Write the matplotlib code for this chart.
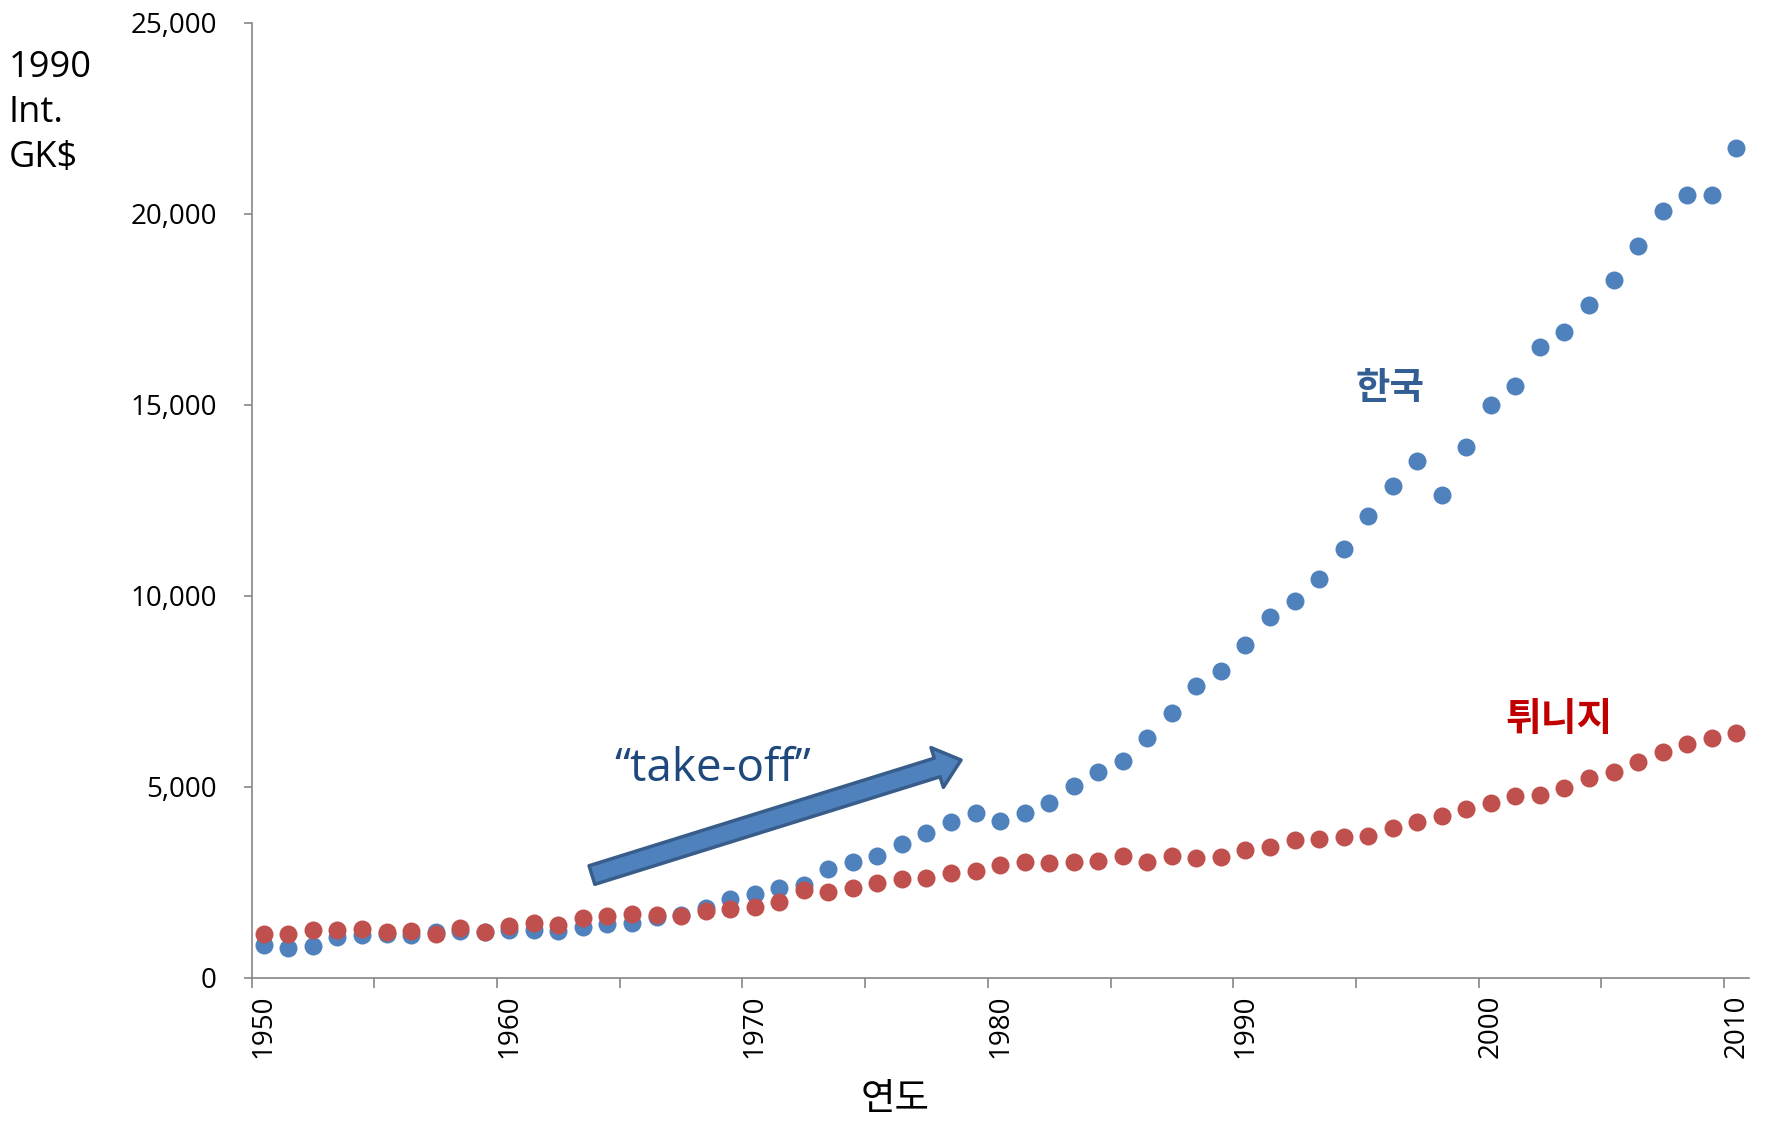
import matplotlib
matplotlib.use('Agg')
import matplotlib.pyplot as plt
from matplotlib.ticker import FuncFormatter, FixedLocator

# ---- data (1990 Int. GK$) ----
years = list(range(1950, 2011))
korea = [851, 781, 833, 1053, 1113, 1148, 1120, 1180, 1215, 1205,
         1240, 1245, 1230, 1314, 1401, 1419, 1576, 1637, 1812, 2048,
         2186, 2350, 2430, 2833, 3032, 3181, 3487, 3775, 4063, 4316,
         4106, 4316, 4578, 5022, 5373, 5677, 6279, 6934, 7621, 8027,
         8709, 9448, 9867, 10427, 11220, 12092, 12870, 13524, 12634, 13899,
         15000, 15496, 16517, 16894, 17609, 18264, 19147, 20063, 20490, 20490,
         21713]
tunisia = [1139, 1131, 1244, 1244, 1270, 1183, 1227, 1139, 1288, 1200,
           1349, 1436, 1375, 1550, 1610, 1663, 1650, 1610, 1750, 1786,
           1838, 1985, 2291, 2230, 2335, 2466, 2579, 2597, 2728, 2797,
           2946, 3032, 2990, 3032, 3059, 3170, 3032, 3170, 3121, 3145,
           3338, 3409, 3600, 3627, 3688, 3714, 3906, 4080, 4229, 4420,
           4570, 4745, 4779, 4975, 5216, 5390, 5651, 5913, 6114, 6263,
           6410]
xtick_labels = [1950, 1960, 1970, 1980, 1990, 2000, 2010]
yticks = [0, 5000, 10000, 15000, 20000, 25000]

plt.rcParams['font.family'] = ['Open Sans', 'Noto Sans CJK KR', 'DejaVu Sans']

fig = plt.figure(figsize=(17.68, 11.24), dpi=100)
ax = fig.add_axes([0.1423, 0.1303, 0.989 - 0.1423, 0.9798 - 0.1303])

ax.scatter(years, korea, s=168, color='#4F81BD', linewidths=0, zorder=3, clip_on=False)
ax.scatter(years, tunisia, s=168, color='#C0504D', linewidths=0, zorder=4, clip_on=False)

ax.set_xlim(years[0] - 0.5, years[-1] + 0.5)
ax.set_ylim(yticks[0], yticks[-1])

axis_col = '#868686'
for s in ['top', 'right']:
    ax.spines[s].set_visible(False)
for s in ['left', 'bottom']:
    ax.spines[s].set_color(axis_col)
    ax.spines[s].set_linewidth(1.2)

ax.set_yticks(yticks)
ax.yaxis.set_major_formatter(FuncFormatter(lambda v, p: f'{int(v):,}'))
ax.tick_params(axis='y', direction='out', length=6, width=1.2, color=axis_col,
               labelsize=20, pad=19, labelcolor='black')

ax.xaxis.set_major_locator(FixedLocator(xtick_labels))
ax.set_xticklabels([str(v) for v in xtick_labels], rotation=90)
ax.xaxis.set_minor_locator(FixedLocator([years[0] - 0.5 + 5 * k for k in range(13)]))
ax.tick_params(axis='x', which='major', length=0, labelsize=20, pad=12, labelcolor='black')
ax.tick_params(axis='x', which='minor', direction='out', length=7, width=1.2, color=axis_col)

# annotations
ax.annotate('', xy=(1978.41, 5695), xytext=(1963.37, 2684),
            arrowprops=dict(arrowstyle='simple,head_length=0.9,head_width=1.5,tail_width=0.7',
                            mutation_scale=20, fc='#4F81BD', ec='#385D8A', lw=2.5,
                            shrinkA=0, shrinkB=0), zorder=5)
ax.text(1968.28, 5145, '\u201ctake-off\u201d', ha='center', va='baseline',
        fontsize=33, color='#1F497D')
ax.text(1995.89, 15400, '한국', ha='center', va='center', fontsize=27,
        fontweight='bold', color='#325E94')
ax.text(2002.78, 6720, '튀니지', ha='center', va='center', fontsize=28,
        fontweight='bold', color='#C00000')

fig.text(9 / 1768, 1 - 50 / 1124, '1990\nInt.\nGK$', ha='left', va='top',
         fontsize=26, linespacing=1.33)
fig.text(895 / 1768, 1 - 1100 / 1124, '연도', ha='center', va='center', fontsize=27)

fig.savefig('out.png', dpi=100)
